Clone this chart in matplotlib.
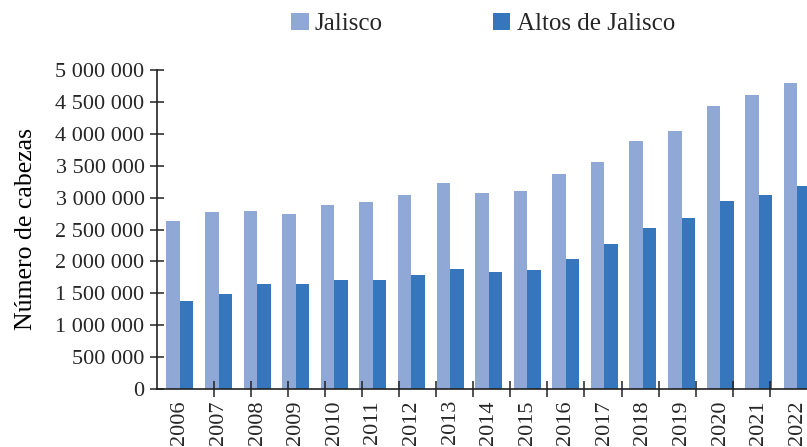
import matplotlib.pyplot as plt
import numpy as np
from matplotlib.ticker import FuncFormatter

# Cattle heads per year
years = ['2006', '2007', '2008', '2009', '2010', '2011', '2012', '2013', '2014',
         '2015', '2016', '2017', '2018', '2019', '2020', '2021', '2022']
jalisco = [2630000, 2770000, 2790000, 2740000, 2880000, 2930000, 3040000, 3230000, 3070000,
           3100000, 3370000, 3560000, 3890000, 4040000, 4440000, 4610000, 4800000]
altos = [1380000, 1490000, 1650000, 1650000, 1710000, 1710000, 1790000, 1880000, 1830000,
         1870000, 2040000, 2270000, 2520000, 2680000, 2950000, 3040000, 3180000]

plt.rcParams['font.family'] = ['Liberation Serif', 'DejaVu Serif']
plt.rcParams['text.color'] = '#262626'
plt.rcParams['xtick.labelcolor'] = '#262626'
plt.rcParams['ytick.labelcolor'] = '#262626'

fig = plt.figure(figsize=(8.07, 4.47), dpi=100)

# one category is about 38.6 px wide; axes run past the right edge like the original
cat = 38.58
x0, x1 = -0.596, 16.6
ax = fig.add_axes([157 / 807, 58 / 447, (x1 - x0) * cat / 807, 319 / 447])

x = np.arange(len(years))
w = 0.35
ax.bar(x - w / 2, jalisco, width=w, color='#8fa8d6', label='Jalisco')
ax.bar(x + w / 2, altos, width=w, color='#3576bc', label='Altos de Jalisco')

ax.set_xlim(x0, x1)
ax.set_ylim(0, 5000000)
ax.set_yticks(np.arange(0, 5000001, 500000))
ax.yaxis.set_major_formatter(FuncFormatter(lambda v, p: f"{int(v):,}".replace(',', ' ')))

ax.set_xticks(x)
ax.set_xticklabels(years, rotation=90)
# tick marks in the source sit slightly off the category boundaries
ax.set_xticks(np.linspace(0.873, 15.29, 16), minor=True)
ax.tick_params(axis='x', which='major', length=0, pad=8, labelsize=16)
ax.tick_params(axis='x', which='minor', length=12, direction='inout', color='#222222', width=1.1)
ax.tick_params(axis='y', length=10, direction='inout', labelsize=16, color='#222222',
               width=1.1, pad=4)

for s in ['top', 'right']:
    ax.spines[s].set_visible(False)
for s in ['left', 'bottom']:
    ax.spines[s].set_color('#222222')
    ax.spines[s].set_linewidth(1.2)

ax.set_ylabel('Número de cabezas', fontsize=18.5, labelpad=13)

fig.legend(loc='center', bbox_to_anchor=(483 / 807, 1 - 24 / 447), ncol=2, frameon=False,
           fontsize=18, handlelength=0.7, handleheight=0.7, handletextpad=0.25,
           columnspacing=4.4)

plt.savefig('out.png', dpi=100)
